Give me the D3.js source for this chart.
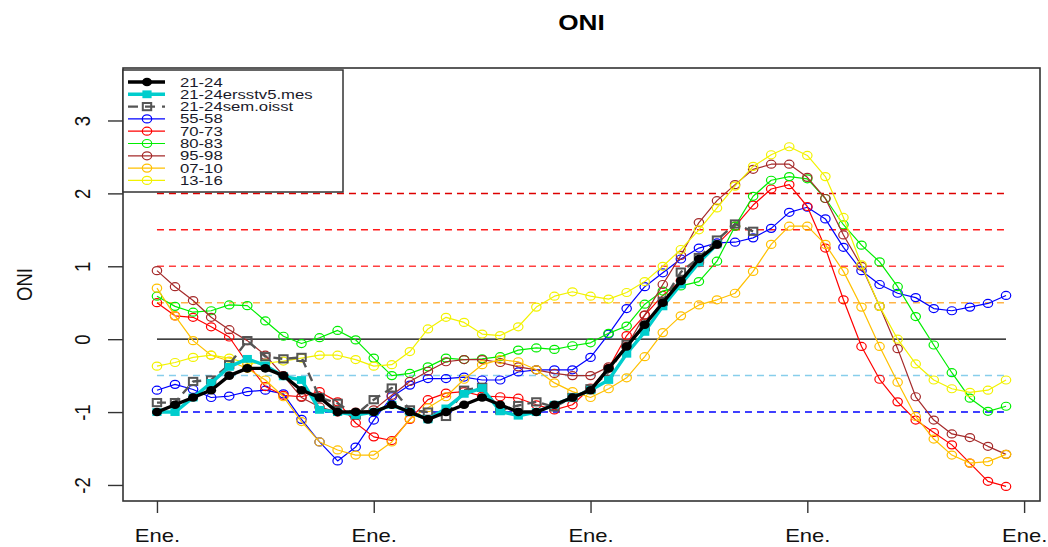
<!DOCTYPE html>
<html>
<head>
<meta charset="utf-8">
<script src="https://cdn.jsdelivr.net/npm/d3@7"></script>
<style>
  html, body { margin: 0; padding: 0; background: #fff; }
  svg { display: block; font-family: "Liberation Sans", Arial, sans-serif; }
</style>
</head>
<body>
<svg id="chart" width="1048" height="547"></svg>
<script>
// ONI, three-month running values, January of year 1 through December of year 4
const s2124      = [-1.0,-0.9,-0.8,-0.7,-0.5,-0.4,-0.4,-0.5,-0.7,-0.8,-1.0,-1.0,
                    -1.0,-0.9,-1.0,-1.1,-1.0,-0.9,-0.8,-0.9,-1.0,-1.0,-0.9,-0.8,
                    -0.7,-0.4,-0.1,0.2,0.5,0.8,1.1,1.3];
const s2124ersst = [-1.0,-1.0,-0.8,-0.6,-0.38,-0.27,-0.36,-0.51,-0.56,-0.97,-1.0,-1.04,
                    -1.0,-0.9,-1.0,-1.1,-0.95,-0.75,-0.67,-0.99,-1.05,-1.0,-0.9,-0.8,
                    -0.7,-0.56,-0.2,0.1,0.45,0.75,1.05,1.3];
const s2124oisst = [-0.87,-0.87,-0.58,-0.56,-0.35,-0.02,-0.24,-0.27,-0.25,-0.8,-0.88,-1.04,
                    -0.83,-0.67,-0.97,-1.0,-1.06,-0.7,-0.66,-0.97,-0.91,-0.86,-0.93,-0.8,
                    -0.68,-0.45,-0.07,0.17,0.52,0.92,1.12,1.36,1.58,1.48];
const s5558 = [-0.7,-0.62,-0.69,-0.8,-0.78,-0.72,-0.7,-0.75,-1.1,-1.41,-1.67,-1.48,
               -1.11,-0.79,-0.63,-0.54,-0.54,-0.52,-0.56,-0.56,-0.45,-0.42,-0.42,-0.42,
               -0.25,0.07,0.42,0.72,0.91,1.1,1.25,1.32,1.33,1.39,1.52,1.74,
               1.81,1.65,1.26,0.94,0.75,0.63,0.57,0.42,0.39,0.44,0.49,0.6];
const s7073 = [0.5,0.32,0.3,0.17,0.03,-0.33,-0.65,-0.77,-0.79,-0.72,-0.86,-1.15,
               -1.34,-1.39,-1.1,-0.83,-0.74,-0.72,-0.78,-0.79,-0.81,-0.9,-0.97,-0.9,
               -0.67,-0.4,0.05,0.33,0.6,0.8,1.05,1.3,1.55,1.84,2.06,2.12,
               1.82,1.25,0.54,-0.1,-0.55,-0.86,-1.11,-1.28,-1.45,-1.7,-1.95,-2.02];
const s8083 = [0.59,0.45,0.37,0.39,0.47,0.46,0.25,0.04,-0.06,0.02,0.12,-0.01,
               -0.26,-0.5,-0.47,-0.38,-0.26,-0.28,-0.27,-0.24,-0.15,-0.12,-0.14,-0.09,
               -0.05,0.08,0.18,0.48,0.66,0.73,0.79,1.07,1.55,1.96,2.18,2.23,
               2.2,1.93,1.57,1.29,1.06,0.72,0.31,-0.08,-0.46,-0.81,-0.99,-0.92];
const s9598 = [0.94,0.72,0.53,0.3,0.13,-0.02,-0.22,-0.5,-0.8,-0.93,-1.0,-1.0,
               -0.97,-0.77,-0.58,-0.44,-0.31,-0.28,-0.28,-0.32,-0.38,-0.42,-0.47,-0.5,
               -0.5,-0.38,-0.1,0.33,0.75,1.15,1.6,1.9,2.12,2.33,2.4,2.4,
               2.22,1.93,1.43,1.0,0.45,-0.13,-0.79,-1.11,-1.3,-1.35,-1.47,-1.58];
const s0710 = [0.7,0.32,-0.02,-0.22,-0.3,-0.4,-0.56,-0.79,-1.13,-1.41,-1.52,-1.59,
               -1.59,-1.41,-1.09,-0.94,-0.79,-0.55,-0.35,-0.28,-0.31,-0.42,-0.6,-0.72,
               -0.8,-0.68,-0.53,-0.24,0.09,0.32,0.47,0.54,0.63,0.93,1.3,1.55,
               1.55,1.3,0.93,0.44,-0.1,-0.59,-1.06,-1.37,-1.59,-1.7,-1.68,-1.58];
const s1316 = [-0.37,-0.32,-0.25,-0.22,-0.26,-0.33,-0.33,-0.3,-0.26,-0.22,-0.22,-0.28,
               -0.37,-0.35,-0.17,0.14,0.3,0.23,0.07,0.05,0.17,0.44,0.59,0.65,
               0.59,0.55,0.64,0.79,1.0,1.23,1.5,1.8,2.1,2.37,2.53,2.64,
               2.52,2.23,1.67,1.02,0.45,0.0,-0.34,-0.56,-0.68,-0.73,-0.7,-0.56];

const seriesNames = ["21-24","21-24ersstv5.mes","21-24sem.oisst","55-58","70-73","80-83","95-98","07-10","13-16"];

const xTickMonths = [0, 12, 24, 36, 48];
const xTickLabels = ["Ene.", "Ene.", "Ene.", "Ene.", "Ene."];
const yTicks = [-2, -1, 0, 1, 2, 3];
const refLevels = [2, 1.5, 1, 0.5, -0.5, -1];

// ---------------------------------------------------------------
const svg = d3.select("#chart");
const box = { left: 123, right: 1040, top: 68, bottom: 501 };
const SX = 1.19; // horizontal stretch applied to glyphs and markers

const nMonths = 48;
const padX = (nMonths - 1) * 0.04;
const x = d3.scaleLinear().domain([-padX, nMonths - 1 + padX]).range([box.left, box.right]);
const y = d3.scaleLinear().domain([-2.22, 3.72]).range([box.bottom, box.top]);

const styles = {
  "21-24":            { color: "#000000", width: 3.4, marker: "dot",    dash: null },
  "21-24ersstv5.mes": { color: "#00CDCD", width: 3.4, marker: "square", dash: null },
  "21-24sem.oisst":   { color: "#555555", width: 2.4, marker: "osquare", dash: "9,6" },
  "55-58": { color: "#0000FF", width: 1.2, marker: "circle", dash: null },
  "70-73": { color: "#FF0000", width: 1.2, marker: "circle", dash: null },
  "80-83": { color: "#00EE00", width: 1.2, marker: "circle", dash: null },
  "95-98": { color: "#A52A2A", width: 1.2, marker: "circle", dash: null },
  "07-10": { color: "#FFC000", width: 1.2, marker: "circle", dash: null },
  "13-16": { color: "#F2F200", width: 1.2, marker: "circle", dash: null }
};
const refStyles = {
  "2": "#DD0000", "1.5": "#FF1A1A", "1": "#FF4040",
  "0.5": "#FFB347", "-0.5": "#87CEEB", "-1": "#0000FF"
};

const dataBy = {
  "21-24": s2124, "21-24ersstv5.mes": s2124ersst, "21-24sem.oisst": s2124oisst,
  "55-58": s5558, "70-73": s7073, "80-83": s8083, "95-98": s9598,
  "07-10": s0710, "13-16": s1316
};

function drawMarker(g, kind, color, cx, cy) {
  if (kind === "circle") {
    g.append("ellipse").attr("cx", cx).attr("cy", cy).attr("rx", 4.7).attr("ry", 4.0)
      .attr("fill", "none").attr("stroke", color).attr("stroke-width", 1.2);
  } else if (kind === "dot") {
    g.append("ellipse").attr("cx", cx).attr("cy", cy).attr("rx", 5.0).attr("ry", 4.3)
      .attr("fill", color);
  } else if (kind === "square") {
    g.append("rect").attr("x", cx - 4.6).attr("y", cy - 3.9).attr("width", 9.2).attr("height", 7.8)
      .attr("fill", color);
  } else if (kind === "osquare") {
    g.append("rect").attr("x", cx - 4.2).attr("y", cy - 3.6).attr("width", 8.4).attr("height", 7.2)
      .attr("fill", "none").attr("stroke", color).attr("stroke-width", 2);
  }
}

// Title
svg.append("text")
  .attr("transform", `translate(${(box.left + box.right) / 2},30) scale(${SX},1)`)
  .attr("text-anchor", "middle")
  .attr("font-weight", "bold").attr("font-size", 22).attr("fill", "#000")
  .text("ONI");

// Reference levels
const plot = svg.append("g");
plot.selectAll("line.ref").data(refLevels).join("line")
  .attr("class", "ref")
  .attr("x1", x(0)).attr("x2", x(nMonths - 1))
  .attr("y1", d => y(d)).attr("y2", d => y(d))
  .attr("stroke", d => refStyles[String(d)])
  .attr("stroke-width", 1.5)
  .attr("stroke-dasharray", "7,5");
plot.append("line")
  .attr("x1", x(0)).attr("x2", x(nMonths - 1))
  .attr("y1", y(0)).attr("y2", y(0))
  .attr("stroke", "#000").attr("stroke-width", 1.2);

// Series: historical events first, current period on top
const drawOrder = ["55-58","70-73","80-83","95-98","07-10","13-16","21-24sem.oisst","21-24ersstv5.mes","21-24"];
const lineGen = d3.line().x((d, i) => x(i)).y(d => y(d));
drawOrder.forEach(name => {
  const st = styles[name];
  const vals = dataBy[name];
  const g = plot.append("g");
  g.append("path").datum(vals)
    .attr("d", lineGen)
    .attr("fill", "none")
    .attr("stroke", st.color)
    .attr("stroke-width", st.width)
    .attr("stroke-linejoin", "round")
    .attr("stroke-dasharray", st.dash);
  vals.forEach((v, i) => drawMarker(g, st.marker, st.color, x(i), y(v)));
});

// Plot frame
svg.append("rect")
  .attr("x", box.left).attr("y", box.top)
  .attr("width", box.right - box.left).attr("height", box.bottom - box.top)
  .attr("fill", "none").attr("stroke", "#333").attr("stroke-width", 1.6);

// X axis
const xAxis = svg.append("g")
  .attr("transform", `translate(0,${box.bottom})`)
  .call(d3.axisBottom(x).tickValues(xTickMonths)
    .tickFormat((d, i) => xTickLabels[i]).tickSize(12));
xAxis.select(".domain").remove();
xAxis.selectAll(".tick line").attr("stroke", "#333").attr("stroke-width", 1.4);
xAxis.selectAll(".tick text")
  .attr("y", 0).attr("dy", null)
  .attr("transform", `translate(0,41) scale(${SX},1)`)
  .attr("font-size", 18.5).attr("fill", "#111")
  .attr("font-family", "Liberation Sans, Arial, sans-serif");

// Y axis
const yAxis = svg.append("g")
  .attr("transform", `translate(${box.left},0)`)
  .call(d3.axisLeft(y).tickValues(yTicks).tickFormat(d => String(d)).tickSize(15));
yAxis.select(".domain").remove();
yAxis.selectAll(".tick line").attr("stroke", "#333").attr("stroke-width", 1.4);
yAxis.selectAll(".tick text")
  .attr("x", 0).attr("dy", null)
  .attr("text-anchor", "middle")
  .attr("transform", `translate(-33,0) scale(${SX},1) rotate(-90)`)
  .attr("font-size", 18.5).attr("fill", "#111")
  .attr("font-family", "Liberation Sans, Arial, sans-serif");

svg.append("text")
  .attr("transform", `translate(32,${(box.top + box.bottom) / 2}) scale(${SX},1) rotate(-90)`)
  .attr("text-anchor", "middle")
  .attr("font-size", 18.5).attr("fill", "#111")
  .text("ONI");

// Legend
const lg = svg.append("g");
const lgBox = { x: box.left, y: 70, w: 220, h: 122 };
lg.append("rect")
  .attr("x", lgBox.x).attr("y", lgBox.y).attr("width", lgBox.w).attr("height", lgBox.h)
  .attr("fill", "#fff").attr("stroke", "#333").attr("stroke-width", 1.5);
seriesNames.forEach((name, i) => {
  const st = styles[name];
  const cy = 82 + i * 12.3;
  const row = lg.append("g");
  row.append("line")
    .attr("x1", 128).attr("x2", 165).attr("y1", cy).attr("y2", cy)
    .attr("stroke", st.color).attr("stroke-width", st.width)
    .attr("stroke-dasharray", st.dash ? "10,7" : null);
  drawMarker(row, st.marker, st.color, 147, cy);
  row.append("text")
    .attr("transform", `translate(180,${cy + 4.5}) scale(${SX * 1.08},1)`)
    .attr("font-size", 13).attr("fill", "#1a1a2a")
    .text(name);
});
</script>
</body>
</html>
